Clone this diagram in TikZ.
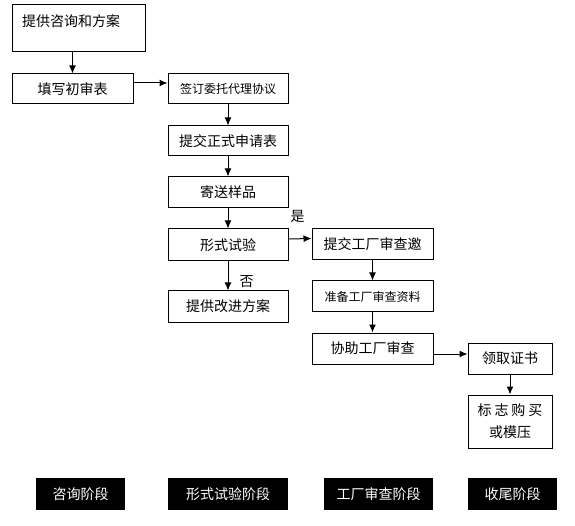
\documentclass[tikz,border=0pt]{standalone}
\usepackage{fontspec}
\setmainfont{Noto Sans CJK SC}
\usetikzlibrary{arrows.meta}
\begin{document}
\begin{tikzpicture}[x=1pt,y=-1pt,
  box/.style={draw,line width=1pt,inner sep=2pt,align=center,font=\fontsize{14}{16}\selectfont},
  phase/.style={fill=black,text=white,minimum height=32pt,inner sep=0pt,font=\fontsize{14}{16}\selectfont},
  yn/.style={inner sep=0pt,font=\fontsize{14}{16}\selectfont},
  arr/.style={line width=1pt,-{Latex[length=8pt,width=7pt]}}]
\pgfmathsetmacro{\bw}{120}
\pgfmathsetmacro{\bh}{31}
\useasboundingbox (0,0) rectangle (575,526);
\node[box,minimum width=133pt,minimum height=47pt,text width=113pt,align=left,inner xsep=10pt,text height=10pt,text depth=14.2pt](zixun) at (78.5,28.5){提供咨询和方案};
\node[box,minimum width=121pt,minimum height=30pt](chushen) at (72.5,89){填写初审表};
\node[box,minimum width=\bw pt,minimum height=30pt,font=\fontsize{12}{14}\selectfont](weituo) at (228,89){签订委托代理协议};
\node[box,minimum width=\bw pt,minimum height=30pt](shenqing) at (228,141){提交正式申请表};
\node[box,minimum width=\bw pt,minimum height=\bh pt](yangpin) at (228,192.5){寄送样品};
\node[box,minimum width=\bw pt,minimum height=32pt](shiyan) at (228,245){形式试验};
\node[box,minimum width=\bw pt,minimum height=\bh pt](gaijin) at (228,306.5){提供改进方案};
\node[box,minimum width=121pt,minimum height=\bh pt](yaoqing) at (372.5,244.5){提交工厂审查邀};
\node[box,minimum width=121pt,minimum height=\bh pt,font=\fontsize{12}{14}\selectfont](ziliao) at (372.5,296.5){准备工厂审查资料};
\node[box,minimum width=121pt,minimum height=\bh pt](xiezhu) at (372.5,348.5){协助工厂审查};
\node[box,minimum width=84pt,minimum height=\bh pt](zhengshu) at (510,358.5){领取证书};
\node[box,minimum width=84pt,minimum height=53pt,font=\fontsize{14}{22}\selectfont](biaozhi) at (510,421.5){标\hspace{3pt}志\hspace{3pt}购\hspace{3pt}买\\或模压};
% stages
\node[phase,minimum width=89pt](p1) at (80.5,494){咨询阶段};
\node[phase,minimum width=\bw pt](p2) at (228,494){形式试验阶段};
\node[phase,minimum width=109pt](p3) at (378.5,494){工厂审查阶段};
\node[phase,minimum width=89pt](p4) at (512.5,494){收尾阶段};
% arrows
\draw[arr](zixun.south -| chushen.north)--(chushen.north);
\draw[arr]([yshift=6pt]chushen.east)--([yshift=6pt]weituo.west);
\draw[arr](weituo)--(shenqing);
\draw[arr](shenqing)--(yangpin);
\draw[arr](yangpin)--(shiyan);
\draw[arr](shiyan)--(gaijin)node[yn,pos=0.7,right=11pt]{否};
\draw[arr]([yshift=6pt]shiyan.east)--([yshift=6pt]yaoqing.west)node[yn,pos=0.4,above=15.5pt]{是};
\draw[arr](yaoqing)--(ziliao);
\draw[arr](ziliao)--(xiezhu);
\draw[arr]([yshift=-5.5pt]xiezhu.east)--([yshift=4.5pt]zhengshu.west);
\draw[arr](zhengshu)--(biaozhi);
\end{tikzpicture}
\end{document}
